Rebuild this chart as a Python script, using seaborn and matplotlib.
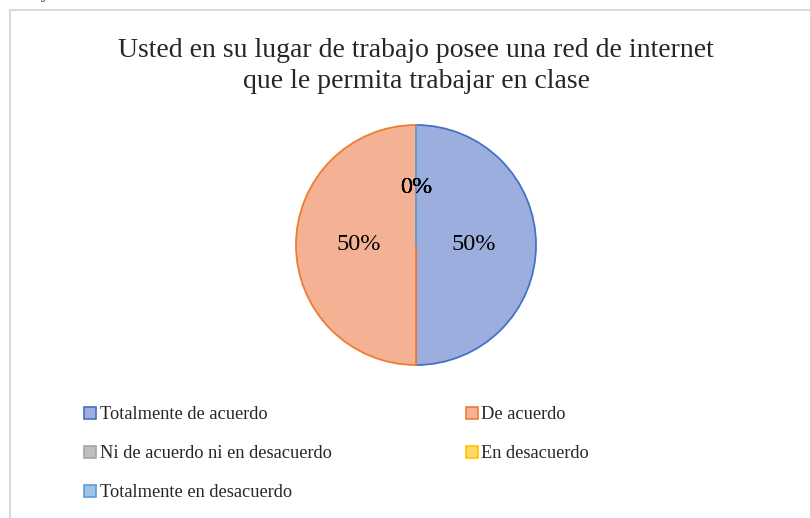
import matplotlib.pyplot as plt
import seaborn as sns
from matplotlib.patches import Rectangle

# data
categories = ["Totalmente de acuerdo", "De acuerdo", "Ni de acuerdo ni en desacuerdo",
              "En desacuerdo", "Totalmente en desacuerdo"]
values = [50, 50, 0, 0, 0]
fill_colors = ["#9CAEDD", "#F5B193", "#BFBFBF", "#FFD966", "#9DC3E6"]
edge_colors = ["#4472C4", "#ED7D31", "#A5A5A5", "#FFC000", "#5B9BD5"]
title = "Usted en su lugar de trabajo posee una red de internet\nque le permita trabajar en clase"

sns.set_theme(style="white")
plt.rcParams['font.family'] = ['Liberation Serif', 'DejaVu Serif']

fig = plt.figure(figsize=(8.1, 5.18), dpi=100)

# light chart border
fig.patches.append(Rectangle((10 / 810, -0.01), 1.0, (518 - 10) / 518 + 0.01,
                             transform=fig.transFigure, fill=False,
                             edgecolor="#D9D9D9", linewidth=1.5))

# cropped caption at very top
fig.text(0.0, 1.0 + 2 / 518, "Trabajar en clase.", fontsize=13, style="italic",
         color="#44546A", ha="left", va="baseline")

fig.text(416 / 810, 1 - 66 / 518, title, fontsize=20, ha="center", va="center",
         linespacing=1.32)

radius_px = 120
ax = fig.add_axes([(416 - radius_px) / 810, (518 - 245 - radius_px) / 518,
                   2 * radius_px / 810, 2 * radius_px / 518])
wedges, texts, autotexts = ax.pie(values, colors=fill_colors, startangle=90, counterclock=False,
                                  autopct=lambda p: f"{p:.0f}%", pctdistance=0.48,
                                  radius=1.0, textprops=dict(fontsize=17.5, color="black"))
for w, ec in zip(wedges, edge_colors):
    w.set_edgecolor(ec)
    w.set_linewidth(1.3)
ax.set_xlim(-1.0, 1.0)
ax.set_ylim(-1.0, 1.0)
ax.set_aspect("auto")
ax.axis("off")

# legend filled row by row like the reference
order = [0, 2, 4, 1, 3]
handles = [Rectangle((0, 0), 1, 1, facecolor=fill_colors[i], edgecolor=edge_colors[i], linewidth=1.2)
           for i in order]
labels = [categories[i] for i in order]
leg = fig.legend(handles, labels, ncol=2, loc="upper left",
                 bbox_to_anchor=(77 / 810, 1 - 399 / 518), frameon=False,
                 fontsize=13.2, handlelength=0.65, handleheight=0.65, handletextpad=0.2,
                 columnspacing=7.3, labelspacing=1.2, borderaxespad=0)

fig.savefig("out.png", dpi=100)
